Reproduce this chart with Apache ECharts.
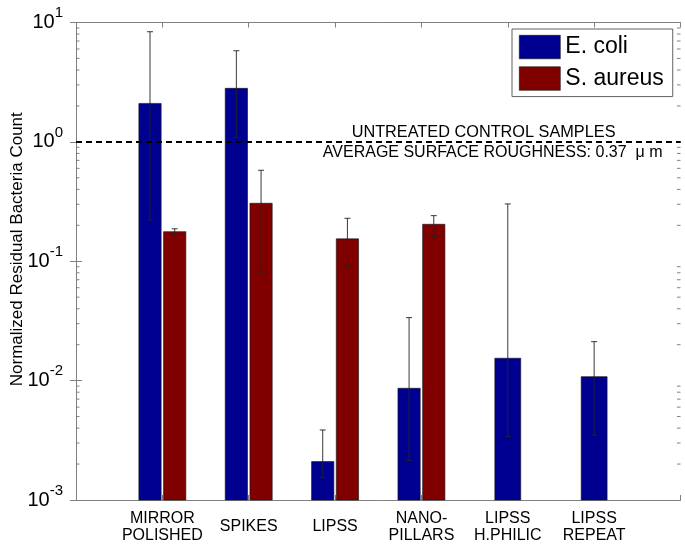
<!DOCTYPE html>
<html>
<head>
<meta charset="utf-8">
<script src="https://cdn.jsdelivr.net/npm/echarts@6/dist/echarts.min.js"></script>
<style>html,body{margin:0;padding:0;background:#fff}#c{width:685px;height:545px}</style>
</head>
<body>
<div id="c"></div>
<script>
// ---- data ----
const categories = ['MIRROR\nPOLISHED', 'SPIKES', 'LIPSS', 'NANO-\nPILLARS', 'LIPSS\nH.PHILIC', 'LIPSS\nREPEAT'];
const ecoli      = [2.10, 2.81, 0.0021, 0.00863, 0.0154, 0.0108];
const ecoliLow   = [0.222, 1.09, 0.00154, 0.00214, 0.0034, 0.0035];
const ecoliHigh  = [8.37, 5.80, 0.00386, 0.0337, 0.302, 0.0212];
const saureus     = [0.177, 0.306, 0.154, 0.204, null, null];
const saureusLow  = [0.168, 0.081, 0.090, 0.161, null, null];
const saureusHigh = [0.187, 0.578, 0.229, 0.241, null, null];
const controlLevel = 1;
const minorTickValues = [
  0.002,0.003,0.004,0.005,0.006,0.007,0.008,0.009,
  0.02,0.03,0.04,0.05,0.06,0.07,0.08,0.09,
  0.2,0.3,0.4,0.5,0.6,0.7,0.8,0.9,
  2,3,4,5,6,7,8,9
];
const seriesNames = ['E. coli', 'S. aureus'];

const FONT = 'Liberation Sans, Arial, Helvetica, sans-serif';
const Y_MIN = 0.001, Y_MAX = 10;
const BLUE = '#000090', RED = '#800000';
const AXIS_GRAY = '#808080';

function makeRender(isBlue) {
  return function (params, api) {
    const x = api.value(0), v = api.value(1), lo = api.value(2), hi = api.value(3);
    if (isNaN(v)) return null;
    const idx = params.dataIndex;
    const paired = saureus[idx] != null;
    const off = isBlue ? (paired ? -0.143 : 0) : 0.143;
    const w = paired ? 0.258 : 0.3;
    const p1 = api.coord([x + off - w / 2, v]);
    const p2 = api.coord([x + off + w / 2, Y_MIN]);
    const cHi = api.coord([x + off, hi]);
    const cLo = api.coord([x + off, lo]);
    const cap = 3;
    const es = { stroke: '#222', lineWidth: 0.9 };
    return {
      type: 'group',
      children: [
        { type: 'rect', shape: { x: p1[0], y: p1[1], width: p2[0] - p1[0], height: p2[1] - p1[1] },
          style: { fill: api.visual('color'), stroke: '#111', lineWidth: 0.6 } },
        { type: 'line', shape: { x1: cHi[0], y1: cHi[1], x2: cLo[0], y2: cLo[1] }, style: es },
        { type: 'line', shape: { x1: cHi[0] - cap, y1: cHi[1], x2: cHi[0] + cap, y2: cHi[1] }, style: es },
        { type: 'line', shape: { x1: cLo[0] - cap, y1: cLo[1], x2: cLo[0] + cap, y2: cLo[1] }, style: es }
      ]
    };
  };
}

function minorTickRender(params, api) {
  const v = api.value(0);
  const cs = params.coordSys;
  const y = api.coord([0, v])[1];
  const L = 3.5;
  const st = { stroke: AXIS_GRAY, lineWidth: 1 };
  return {
    type: 'group',
    children: [
      { type: 'line', shape: { x1: cs.x, y1: y, x2: cs.x + L, y2: y }, style: st },
      { type: 'line', shape: { x1: cs.x + cs.width, y1: y, x2: cs.x + cs.width - L, y2: y }, style: st }
    ]
  };
}

const chart = echarts.init(document.getElementById('c'), null, { renderer: 'canvas' });

const commonX = {
  type: 'value', min: 0, max: 7, interval: 1,
  axisLine: { show: true, lineStyle: { color: AXIS_GRAY, width: 1 } },
  axisTick: { show: true, inside: true, length: 5, lineStyle: { color: AXIS_GRAY } },
  splitLine: { show: false }
};
const commonY = {
  type: 'log', logBase: 10, min: Y_MIN, max: Y_MAX, splitNumber: 4,
  axisLine: { show: true, lineStyle: { color: AXIS_GRAY, width: 1 } },
  axisTick: { show: true, inside: true, length: 6, lineStyle: { color: AXIS_GRAY } },
  splitLine: { show: false }
};

chart.setOption({
  animation: false,
  backgroundColor: '#fff',
  textStyle: { fontFamily: FONT },
  grid: { left: 76, right: 4.5, top: 22.5, bottom: 45, containLabel: false, outerBoundsMode: 'none' },
  legend: {
    orient: 'vertical', left: 512, top: 29,
    padding: [6, 9, 6, 7],
    itemWidth: 41, itemHeight: 23.5, itemGap: 7.4,
    borderColor: '#606060', borderWidth: 1, backgroundColor: '#fff',
    textStyle: { fontSize: 23, color: '#000', fontFamily: FONT },
    data: [
      { name: seriesNames[0], icon: 'rect', itemStyle: { color: BLUE, borderColor: '#111', borderWidth: 0.6 } },
      { name: seriesNames[1], icon: 'rect', itemStyle: { color: RED, borderColor: '#111', borderWidth: 0.6 } }
    ]
  },
  xAxis: [
    Object.assign({}, commonX, {
      position: 'bottom',
      axisLabel: {
        show: true, color: '#000', fontSize: 16, fontFamily: FONT, lineHeight: 17.5,
        verticalAlign: 'middle', margin: 27,
        formatter: function (v) { return categories[v - 1] || ''; }
      }
    }),
    Object.assign({}, commonX, { position: 'top', axisLabel: { show: false } })
  ],
  yAxis: [
    Object.assign({}, commonY, {
      position: 'left',
      name: 'Normalized Residual Bacteria Count',
      nameLocation: 'middle', nameGap: 50, nameRotate: 90, nameMoveOverlap: false,
      nameTextStyle: { fontSize: 17, color: '#000', fontFamily: FONT, padding: [0, 0, 0, 24] },
      axisLabel: {
        show: true, margin: 13,
        formatter: function (v) {
          const e = Math.round(Math.log10(v));
          return '{b|10}{s|' + e + '}';
        },
        rich: {
          b: { fontSize: 20, color: '#000', fontFamily: FONT, lineHeight: 34 },
          s: { fontSize: 15, color: '#000', fontFamily: FONT, lineHeight: 14, verticalAlign: 'top' }
        }
      }
    }),
    Object.assign({}, commonY, { position: 'right', axisLabel: { show: false } })
  ],
  series: [
    {
      name: seriesNames[0], type: 'custom', xAxisIndex: 0, yAxisIndex: 0,
      itemStyle: { color: BLUE },
      renderItem: makeRender(true),
      encode: { x: 0, y: [1, 2, 3] },
      data: categories.map(function (c, i) { return [i + 1, ecoli[i], ecoliLow[i], ecoliHigh[i]]; }),
      z: 2
    },
    {
      name: seriesNames[1], type: 'custom', xAxisIndex: 0, yAxisIndex: 0,
      itemStyle: { color: RED },
      renderItem: makeRender(false),
      encode: { x: 0, y: [1, 2, 3] },
      data: categories.map(function (c, i) {
        return saureus[i] == null ? [i + 1, '-', '-', '-'] : [i + 1, saureus[i], saureusLow[i], saureusHigh[i]];
      }),
      z: 2
    },
    {
      name: 'minorTicks', type: 'custom', xAxisIndex: 0, yAxisIndex: 0,
      renderItem: minorTickRender, silent: true,
      encode: { y: 0 },
      data: minorTickValues.map(function (v) { return [v]; }),
      z: 3
    },
    {
      name: 'control', type: 'line', xAxisIndex: 0, yAxisIndex: 0,
      data: [], silent: true, z: 4,
      markLine: {
        silent: true, symbol: 'none', animation: false,
        lineStyle: { color: '#000', type: [6, 4], width: 2 },
        data: [
          { yAxis: controlLevel,
            label: { show: true, position: 'insideEndTop', distance: [65, 1],
              formatter: 'UNTREATED CONTROL SAMPLES', color: '#000', fontSize: 16.3, fontFamily: FONT } },
          { yAxis: controlLevel,
            label: { show: true, position: 'insideEndBottom', distance: [18, 3],
              formatter: 'AVERAGE SURFACE ROUGHNESS: 0.37  \u03bc m', color: '#000', fontSize: 16, fontFamily: FONT } }
        ]
      }
    }
  ]
});
</script>
</body>
</html>
